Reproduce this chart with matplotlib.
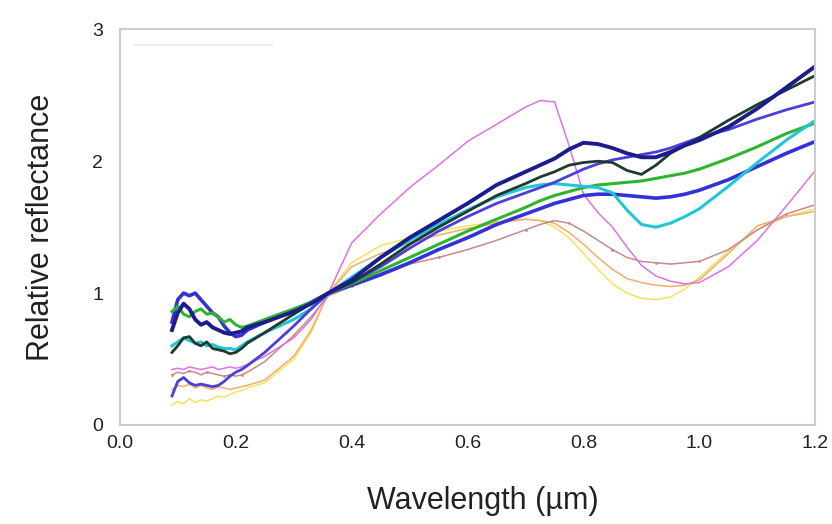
import matplotlib
matplotlib.use("Agg")
import matplotlib.pyplot as plt

plt.rcParams['font.family'] = ['Liberation Sans', 'DejaVu Sans']

# wavelength grid (um) shared by all spectra
wl = [0.09, 0.10, 0.11, 0.12, 0.13, 0.14, 0.15, 0.16, 0.17, 0.18, 0.19, 0.20, 0.21, 0.22,
      0.25, 0.30, 0.33, 0.36, 0.40, 0.45, 0.50, 0.55, 0.60, 0.65, 0.70, 0.725, 0.75,
      0.775, 0.80, 0.825, 0.85, 0.875, 0.90, 0.925, 0.95, 0.975, 1.00, 1.05, 1.10, 1.15, 1.20]

navy = [0.72, 0.85, 0.92, 0.88, 0.80, 0.76, 0.78, 0.74, 0.72, 0.70, 0.69, 0.70, 0.71, 0.74,
        0.78, 0.86, 0.92, 1.00, 1.10, 1.27, 1.42, 1.55, 1.68, 1.82, 1.92, 1.97, 2.02,
        2.09, 2.14, 2.13, 2.10, 2.06, 2.03, 2.03, 2.07, 2.12, 2.16, 2.26, 2.40, 2.56, 2.72]
darkgreen = [0.55, 0.60, 0.66, 0.67, 0.62, 0.60, 0.63, 0.58, 0.57, 0.56, 0.54, 0.55, 0.58, 0.62,
             0.70, 0.84, 0.92, 1.00, 1.08, 1.22, 1.37, 1.50, 1.62, 1.74, 1.83, 1.88, 1.92,
             1.97, 1.99, 2.00, 1.99, 1.93, 1.90, 1.97, 2.06, 2.12, 2.18, 2.31, 2.43, 2.54, 2.65]
violet = [0.22, 0.33, 0.36, 0.32, 0.30, 0.31, 0.30, 0.29, 0.30, 0.33, 0.37, 0.40, 0.42, 0.45,
          0.55, 0.75, 0.88, 1.00, 1.08, 1.20, 1.34, 1.47, 1.58, 1.68, 1.76, 1.80, 1.84,
          1.89, 1.94, 1.98, 2.01, 2.03, 2.05, 2.07, 2.10, 2.14, 2.18, 2.24, 2.32, 2.39, 2.45]
cyan = [0.60, 0.63, 0.66, 0.64, 0.62, 0.63, 0.60, 0.61, 0.59, 0.58, 0.58, 0.57, 0.60, 0.63,
        0.70, 0.80, 0.88, 1.00, 1.12, 1.27, 1.40, 1.52, 1.63, 1.73, 1.80, 1.82, 1.83,
        1.82, 1.81, 1.80, 1.76, 1.63, 1.52, 1.50, 1.53, 1.58, 1.64, 1.81, 1.99, 2.16, 2.31]
green = [0.86, 0.90, 0.84, 0.82, 0.86, 0.88, 0.84, 0.85, 0.82, 0.78, 0.80, 0.76, 0.74, 0.75,
         0.80, 0.88, 0.93, 1.00, 1.07, 1.17, 1.27, 1.37, 1.47, 1.56, 1.65, 1.70, 1.74,
         1.77, 1.80, 1.82, 1.83, 1.84, 1.85, 1.87, 1.89, 1.91, 1.94, 2.02, 2.11, 2.21, 2.29]
blue = [0.78, 0.95, 1.00, 0.98, 1.00, 0.95, 0.90, 0.85, 0.82, 0.75, 0.70, 0.67, 0.68, 0.72,
        0.78, 0.87, 0.93, 1.00, 1.06, 1.14, 1.23, 1.33, 1.42, 1.52, 1.60, 1.64, 1.68,
        1.71, 1.74, 1.75, 1.75, 1.74, 1.73, 1.72, 1.73, 1.75, 1.78, 1.86, 1.96, 2.06, 2.15]
magenta = [0.42, 0.43, 0.42, 0.44, 0.43, 0.42, 0.43, 0.44, 0.42, 0.43, 0.44, 0.43, 0.44, 0.46,
           0.52, 0.66, 0.80, 1.00, 1.38, 1.60, 1.80, 1.97, 2.15, 2.28, 2.41, 2.46, 2.45,
           2.12, 1.75, 1.61, 1.50, 1.35, 1.21, 1.13, 1.09, 1.07, 1.08, 1.20, 1.40, 1.66, 1.93]
brown = [0.38, 0.40, 0.39, 0.41, 0.40, 0.38, 0.40, 0.39, 0.38, 0.37, 0.38, 0.37, 0.38, 0.40,
         0.48, 0.68, 0.82, 0.98, 1.05, 1.13, 1.22, 1.27, 1.33, 1.40, 1.48, 1.52, 1.55,
         1.53, 1.47, 1.40, 1.33, 1.27, 1.24, 1.23, 1.22, 1.23, 1.24, 1.33, 1.48, 1.60, 1.67]
orange = [0.27, 0.30, 0.29, 0.31, 0.28, 0.30, 0.28, 0.27, 0.29, 0.28, 0.27, 0.28, 0.29, 0.30,
          0.34, 0.52, 0.72, 1.00, 1.20, 1.30, 1.38, 1.44, 1.49, 1.53, 1.56, 1.55, 1.53,
          1.46, 1.37, 1.27, 1.18, 1.11, 1.08, 1.06, 1.05, 1.06, 1.10, 1.30, 1.51, 1.58, 1.62]
yellow = [0.15, 0.18, 0.16, 0.20, 0.17, 0.19, 0.18, 0.20, 0.22, 0.21, 0.23, 0.25, 0.26, 0.28,
          0.32, 0.50, 0.70, 1.00, 1.23, 1.36, 1.42, 1.47, 1.51, 1.54, 1.56, 1.55, 1.50,
          1.42, 1.30, 1.18, 1.07, 1.00, 0.96, 0.95, 0.97, 1.03, 1.12, 1.32, 1.48, 1.58, 1.64]

x_ticks = [0.0, 0.2, 0.4, 0.6, 0.8, 1.0, 1.2]
y_ticks = [0, 1, 2, 3]

fig = plt.figure(figsize=(8.32, 5.24), dpi=100)
ax = fig.add_axes([0.144, 0.189, 0.836, 0.755])

# thin pale spectra first, thick ones on top
ax.plot(wl, yellow, color='#f3e35a', lw=1.1)
ax.plot(wl, orange, color='#f2ad6a', lw=1.1)
ax.plot(wl, brown, color='#c88a8a', lw=1.1, marker='.', markersize=2, markevery=3)
ax.plot(wl, magenta, color='#dd72e6', lw=1.1)
ax.plot(wl, blue, color='#3232d6', lw=2.6)
ax.plot(wl, green, color='#2eb52e', lw=2.2)
ax.plot(wl, cyan, color='#22c6d8', lw=2.2)
ax.plot(wl, violet, color='#4b3fdc', lw=2.0)
ax.plot(wl, darkgreen, color='#1d3a2c', lw=2.0)
ax.plot(wl, navy, color='#1c1c8c', lw=2.8)

# faint leftover legend stroke at top-left
ax.plot([0.02, 0.22], [0.96, 0.96], transform=ax.transAxes, color='#eeeeee', lw=1.2)

ax.set_xlim(0.0, 1.2)
ax.set_ylim(0, 3)
ax.set_xticks(x_ticks)
ax.set_xticklabels(['%.1f' % v for v in x_ticks])
ax.set_yticks(y_ticks)
ax.tick_params(length=0, labelsize=14, colors='#222222')
ax.tick_params(axis='x', pad=7)
ax.tick_params(axis='y', pad=12)
for s in ax.spines.values():
    s.set_color('#cccccc')
    s.set_linewidth(1.5)

ax.set_xlabel('Wavelength (µm)', fontsize=22, color='#222222')
ax.xaxis.set_label_coords(0.522, -0.155)
ax.set_ylabel('Relative reflectance', fontsize=22, labelpad=26, color='#222222')

fig.savefig('out.png', dpi=100)
